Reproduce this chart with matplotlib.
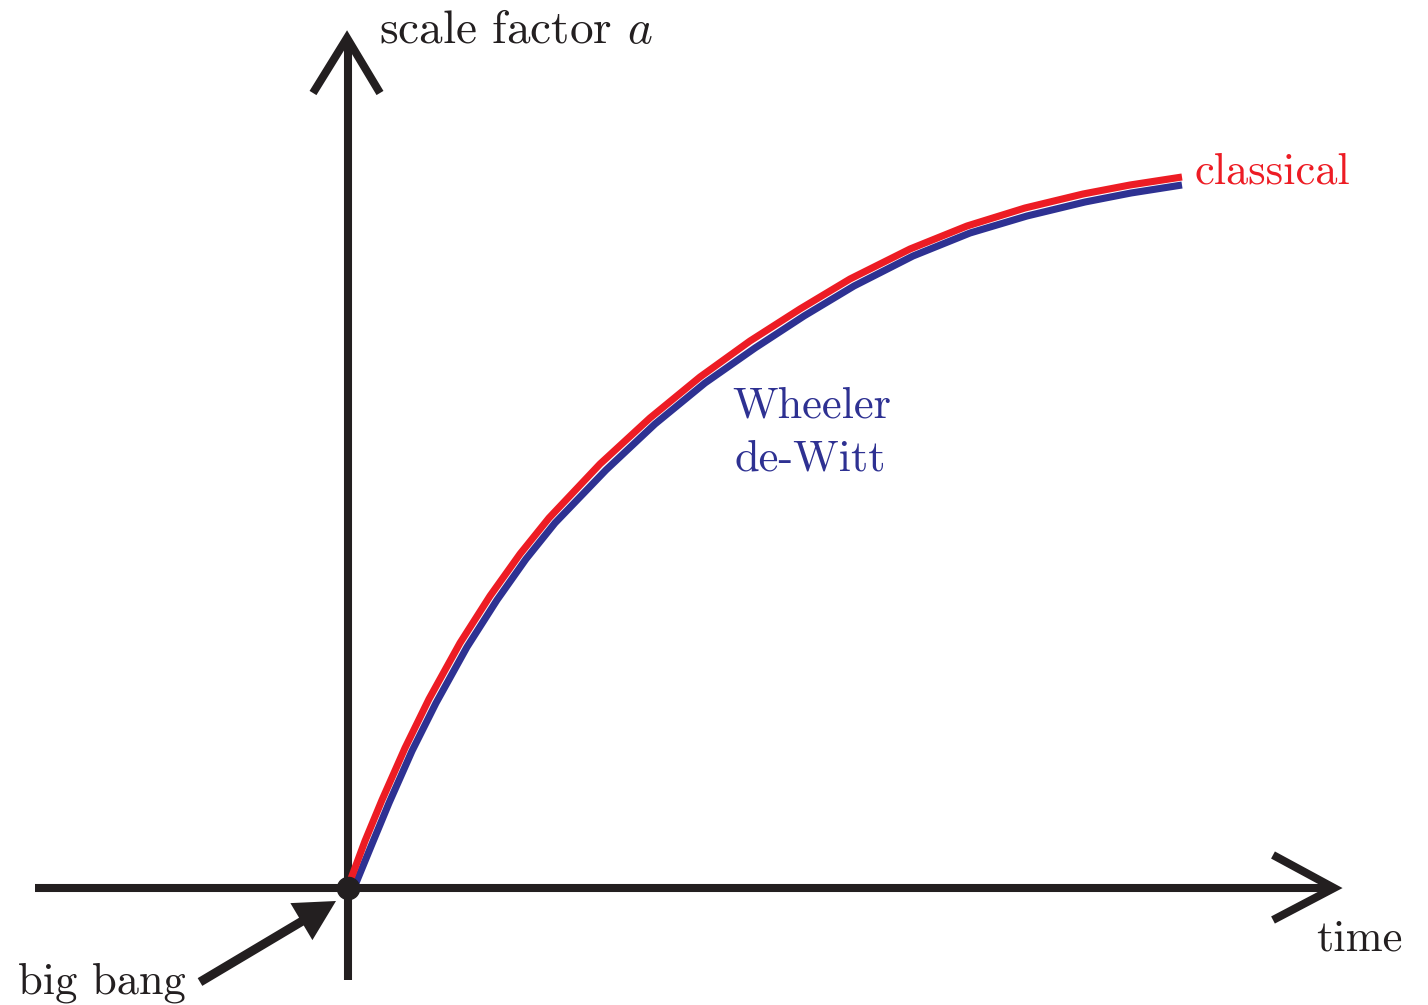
import numpy as np
import matplotlib
matplotlib.use("Agg")
from matplotlib import pyplot as plt

# curve values (time t, scale factor a)
t_classical = [0.01, 0.17, 0.34, 0.57, 0.81, 1.12, 1.42, 1.72, 2.01, 2.52, 3.02,
               3.52, 4.02, 4.52, 5.02, 5.62, 6.19, 6.77, 7.35, 7.82, 8.34]
a_classical = [0.04, 0.47, 0.88, 1.40, 1.89, 2.45, 2.92, 3.34, 3.70, 4.24, 4.70,
               5.11, 5.47, 5.79, 6.09, 6.39, 6.62, 6.80, 6.94, 7.03, 7.11]

t_wdw = [0.08, 0.24, 0.41, 0.64, 0.88, 1.19, 1.49, 1.78, 2.07, 2.58, 3.07,
         3.57, 4.07, 4.56, 5.06, 5.65, 6.22, 6.79, 7.37, 7.83, 8.34]
a_wdw = [0.05, 0.44, 0.85, 1.37, 1.85, 2.41, 2.88, 3.29, 3.65, 4.18, 4.64,
         5.05, 5.40, 5.72, 6.02, 6.32, 6.55, 6.72, 6.86, 6.95, 7.03]

red = '#ED1C24'
blue = '#2E3192'
black = '#231F20'

plt.rcParams['mathtext.fontset'] = 'cm'
plt.rcParams['axes.unicode_minus'] = False

fig = plt.figure(figsize=(14.28, 10.05), dpi=100)
ax = fig.add_axes([0, 0, 1, 1])
ax.set_xlim(-3.48, 10.80)
ax.set_ylim(-1.17, 8.88)
ax.axis('off')

axis_lw = 5.8

# time axis with open arrow head
ax.plot([-3.13, 9.85], [0, 0], color=black, lw=axis_lw, solid_capstyle='butt', zorder=2)
ax.plot([9.25, 9.86, 9.25], [0.33, 0, -0.32], color=black, lw=axis_lw,
        solid_capstyle='butt', solid_joinstyle='miter', zorder=2)

# scale factor axis
ax.plot([0, 0], [-0.92, 8.48], color=black, lw=axis_lw, solid_capstyle='butt', zorder=2)
ax.plot([-0.35, -0.01, 0.32], [7.95, 8.50, 7.95], color=black, lw=axis_lw,
        solid_capstyle='butt', solid_joinstyle='miter', zorder=2)

# curves
ax.plot(t_wdw, a_wdw, color=blue, lw=5.1, solid_capstyle='butt',
        solid_joinstyle='round', zorder=3)
ax.plot(t_classical, a_classical, color=red, lw=5.1, solid_capstyle='butt',
        solid_joinstyle='round', zorder=4)

# big bang point and arrow
ax.plot([0], [0], 'o', ms=16, color=black, zorder=5)
ax.annotate('', xy=(-0.12, -0.13), xytext=(-1.48, -0.94),
            arrowprops=dict(arrowstyle='simple,head_length=2.9,head_width=3.1,tail_width=0.65',
                            mutation_scale=10, fc=black, ec='none', shrinkA=0, shrinkB=0),
            zorder=5)

fs = 32
ax.text(0.31, 8.45, r'scale factor $a$', fontsize=34, family='cmr10', color=black, va='baseline')
ax.text(8.47, 7.05, 'classical', fontsize=fs, family='cmr10', color=red, va='baseline')
ax.text(3.84, 4.71, 'Wheeler', fontsize=fs, family='cmr10', color=blue, va='baseline')
ax.text(3.86, 4.18, 'de-Witt', fontsize=fs, family='cmr10', color=blue, va='baseline')
ax.text(9.68, -0.62, 'time', fontsize=fs, family='cmr10', color=black, va='baseline')
ax.text(-3.30, -1.05, 'big bang', fontsize=fs, family='cmr10', color=black, va='baseline')

fig.savefig('out.png', dpi=100)
